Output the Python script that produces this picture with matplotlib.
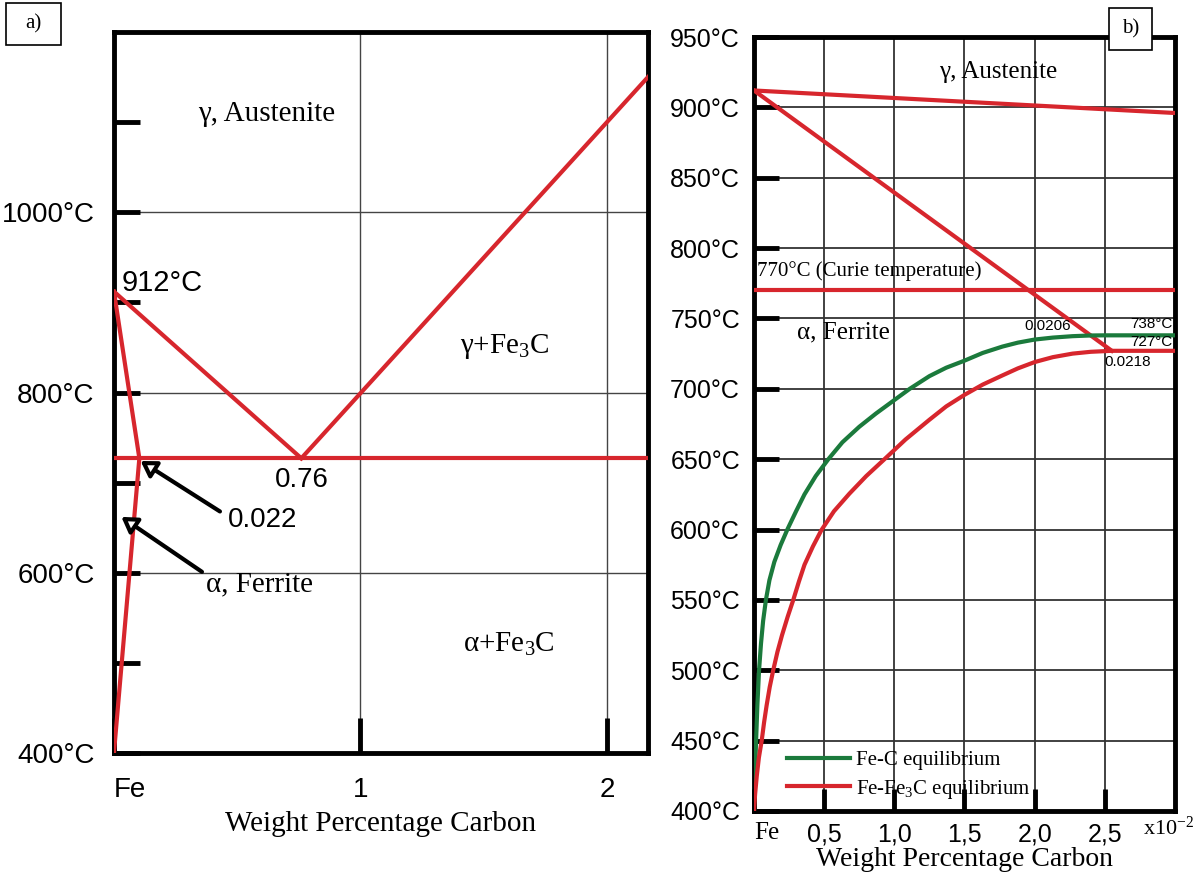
import matplotlib
matplotlib.use('Agg')
import matplotlib.pyplot as plt
from matplotlib.patches import Rectangle
from matplotlib.lines import Line2D

plt.rcParams['font.family'] = ['Liberation Sans', 'DejaVu Sans']
plt.rcParams['mathtext.fontset'] = 'custom'
plt.rcParams['mathtext.rm'] = 'Liberation Serif'
plt.rcParams['mathtext.it'] = 'Liberation Serif'

SERIF = ['Liberation Serif', 'DejaVu Serif']
RED = '#d7262d'
GREEN = '#1b7a3c'

# ---- a) full Fe-Fe3C corner ----
a_ferrite_x = [0, 0.103, 0]          # alpha solvus, drawn schematically wide
a_ferrite_T = [912, 727, 400]
a_a3_x = [0, 0.76]
a_a3_T = [912, 727]
a_acm_x = [0.76, 2.166]
a_acm_T = [727, 1150]
a_eutectoid_T = 727
a_xticks = [0, 1, 2]
a_xticklabels = ['Fe', '1', '2']
a_yticks_major = [400, 600, 800, 1000]
a_yticklabels = ['400°C', '600°C', '800°C', '1000°C']
a_yticks_minor = [500, 700, 900, 1100]

# ---- b) low-carbon ferrite region (x in 1e-2 wt%) ----
b_a3_x = [0, 2.55]
b_a3_T = [912, 727]
b_top_x = [0, 3.0]
b_top_T = [912, 896]
b_curie_T = 770
b_fec_x = [0, 0.003, 0.007, 0.011, 0.015, 0.024, 0.036, 0.05, 0.065, 0.085,
           0.11, 0.145, 0.19, 0.24, 0.30, 0.36, 0.44, 0.53, 0.63, 0.75,
           0.87, 1.0, 1.11, 1.25, 1.37, 1.5, 1.63, 1.77, 1.88, 2.0,
           2.13, 2.27, 2.4, 2.5, 3.0]
b_fec_T = [400, 412, 425, 438, 450, 475, 500, 519, 535, 550,
           564, 577, 589, 600.5, 613, 625, 638, 650, 662, 673,
           682.5, 692, 700, 709, 715, 720, 725.5, 730, 732.8, 735,
           736.4, 737.4, 737.9, 738, 738]
b_fe3c_x = [0, 0.008, 0.02, 0.035, 0.055, 0.072, 0.09, 0.112, 0.137, 0.167,
            0.2, 0.24, 0.28, 0.32, 0.36, 0.42, 0.48, 0.57, 0.68, 0.8,
            0.93, 1.08, 1.25, 1.37, 1.5, 1.63, 1.77, 1.88, 2.0, 2.13,
            2.27, 2.4, 2.55, 3.0]
b_fe3c_T = [400, 412, 425, 438, 450, 463, 475, 488, 500, 513,
            525, 538, 550, 563, 575, 588, 599.5, 613, 625.5, 638,
            650, 664, 678, 687.5, 695.7, 703, 709.5, 714.5, 719, 722.5,
            725, 726.3, 727, 727]
b_xticks = [0, 0.5, 1.0, 1.5, 2.0, 2.5]
b_xticklabels = ['Fe', '0,5', '1,0', '1,5', '2,0', '2,5']
b_yticks = [400, 450, 500, 550, 600, 650, 700, 750, 800, 850, 900, 950]
b_yticklabels = [f'{t}°C' for t in b_yticks]

fig = plt.figure(figsize=(11.97, 8.77), dpi=100)

# ---------------- panel a ----------------
ax = fig.add_axes([0.0952, 0.1414, 0.4461, 0.8221])
ax.set_xlim(0, 2.166)
ax.set_ylim(400, 1200)
lw = 3
ax.plot(a_ferrite_x, a_ferrite_T, color=RED, lw=lw, zorder=3)
ax.plot(a_a3_x, a_a3_T, color=RED, lw=lw, zorder=3)
ax.plot(a_acm_x, a_acm_T, color=RED, lw=lw, zorder=3)
ax.axhline(a_eutectoid_T, color=RED, lw=lw, zorder=3)

ax.set_xticks(a_xticks)
ax.set_xticklabels(a_xticklabels, fontsize=20)
ax.xaxis.get_ticklabels()[0].set_horizontalalignment('left')
ax.set_yticks(a_yticks_major)
ax.set_yticklabels(a_yticklabels, fontsize=20)
ax.set_yticks(a_yticks_minor, minor=True)
ax.tick_params(axis='x', direction='in', length=25, width=3.5, pad=17, top=False)
ax.tick_params(axis='y', which='both', direction='in', length=19, width=3.5, pad=14, right=False)
ax.tick_params(axis='y', which='minor', labelleft=False)
ax.grid(True, which='major', color='#444444', lw=1)
for s in ax.spines.values():
    s.set_linewidth(3.5)

ax.set_xlabel('Weight Percentage Carbon', family=SERIF, fontsize=21, labelpad=6)

ax.text(0.62, 1109, 'γ, Austenite', family=SERIF, fontsize=21, ha='center', va='center')
ax.text(0.032, 922, '912°C', fontsize=21, ha='left', va='center')
ax.text(1.586, 851, 'γ+Fe$_3$C', family=SERIF, fontsize=21, ha='center', va='center')
ax.text(0.763, 703, '0.76', fontsize=20, ha='center', va='center')
ax.text(0.462, 659, '0.022', fontsize=20, ha='left', va='center')
ax.text(0.592, 587, 'α, Ferrite', family=SERIF, fontsize=21, ha='center', va='center')
ax.text(1.6, 520, 'α+Fe$_3$C', family=SERIF, fontsize=21, ha='center', va='center')

arrow = dict(arrowstyle='-|>,head_length=0.45,head_width=0.28', fc='white', ec='black',
             lw=3, shrinkA=0, shrinkB=0, mutation_scale=20)
ax.annotate('', xy=(0.108, 724), xytext=(0.43, 668), arrowprops=arrow, zorder=4)
ax.annotate('', xy=(0.03, 662), xytext=(0.357, 601), arrowprops=arrow, zorder=4)

# ---------------- panel b ----------------
bx = fig.add_axes([0.6299, 0.0753, 0.3517, 0.8825])
bx.set_xlim(0, 3.0)
bx.set_ylim(400, 950)
bx.plot(b_top_x, b_top_T, color=RED, lw=lw, zorder=3)
bx.plot(b_a3_x, b_a3_T, color=RED, lw=lw, zorder=3)
bx.axhline(b_curie_T, color=RED, lw=lw, zorder=3)
bx.plot(b_fec_x, b_fec_T, color=GREEN, lw=lw, zorder=3, solid_joinstyle='round')
bx.plot(b_fe3c_x, b_fe3c_T, color=RED, lw=lw, zorder=3, solid_joinstyle='round')

bx.set_xticks(b_xticks)
bx.set_xticklabels(b_xticklabels, fontsize=18)
fe_lbl = bx.xaxis.get_ticklabels()[0]
fe_lbl.set_horizontalalignment('left')
fe_lbl.set_family(SERIF)
bx.set_yticks(b_yticks)
bx.set_yticklabels(b_yticklabels, fontsize=18)
bx.tick_params(axis='x', direction='in', length=16, width=3.5, pad=8, top=False)
bx.tick_params(axis='y', direction='in', length=18, width=3.5, pad=10, right=False)
bx.grid(True, color='#333333', lw=1.3)
for s in bx.spines.values():
    s.set_linewidth(3.5)
bx.set_xlabel('Weight Percentage Carbon', family=SERIF, fontsize=20, labelpad=1)
bx.text(0.924, -0.022, 'x10$^{-2}$', family=SERIF, fontsize=16, ha='left', va='center',
        transform=bx.transAxes)

bx.text(1.74, 925, 'γ, Austenite', family=SERIF, fontsize=18, ha='center', va='center')
bx.text(0.02, 784, '770°C (Curie temperature)', family=SERIF, fontsize=15, ha='left', va='center')
bx.text(0.31, 740, 'α, Ferrite', family=SERIF, fontsize=18, ha='left', va='center')
bx.text(1.93, 744.5, '0.0206', fontsize=11, ha='left', va='center')
bx.text(2.98, 746, '738°C', fontsize=11, ha='right', va='center')
bx.text(2.98, 733, '727°C', fontsize=11, ha='right', va='center')
bx.text(2.50, 719, '0.0218', fontsize=11, ha='left', va='center')

handles = [Line2D([], [], color=GREEN, lw=lw), Line2D([], [], color=RED, lw=lw)]
bx.legend(handles, ['Fe-C equilibrium', 'Fe-Fe$_3$C equilibrium'],
          loc='lower left', bbox_to_anchor=(0.035, -0.011), frameon=False,
          prop={'family': SERIF, 'size': 15}, handlelength=3.0, handletextpad=0.3,
          labelspacing=0.35)

# panel tags
for (px, py, w, h, tag) in [(6, 3, 55, 42, 'a)'), (1109, 8, 43, 42, 'b)')]:
    fig.add_artist(Rectangle((px / 1197, 1 - (py + h) / 877), w / 1197, h / 877,
                             transform=fig.transFigure, facecolor='white',
                             edgecolor='black', lw=1.2, zorder=10))
    fig.text((px + w / 2) / 1197, 1 - (py + h / 2) / 877, tag, family=SERIF,
             fontsize=15, ha='center', va='center', zorder=11)

fig.savefig('out.png', dpi=100)
